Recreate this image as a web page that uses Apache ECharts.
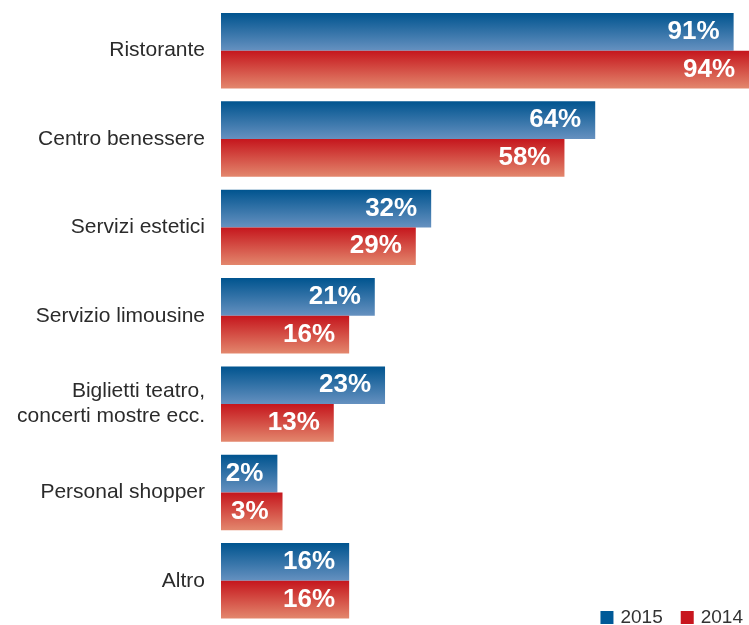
<!DOCTYPE html>
<html><head><meta charset="utf-8">
<script src="https://cdn.jsdelivr.net/npm/echarts@6/dist/echarts.min.js"></script>
<style>html,body{margin:0;padding:0;background:#fff}#c{width:749px;height:625px}</style>
</head><body><div id="c"></div>
<script>
const categories = ["Ristorante", "Centro benessere", "Servizi estetici", "Servizio limousine", "Biglietti teatro,\nconcerti mostre ecc.", "Personal shopper", "Altro"];
const values2015 = [91, 64, 32, 21, 23, 2, 16];
const values2014 = [94, 58, 29, 16, 13, 3, 16];
const seriesNames = ["2015", "2014"];

const chart = echarts.init(document.getElementById('c'), null, {renderer: 'canvas'});
const lbl = {
  show: true, position: 'insideRight', distance: 14, color: '#fff',
  fontFamily: '"Liberation Sans", Arial, sans-serif',
  fontWeight: 'bold', fontSize: 26, formatter: p => p.value + '%'
};
chart.setOption({
  animation: false,
  grid: {left: 221, right: 0, top: 6.5, height: 623, containLabel: false},
  legend: {
    right: 6, top: 608, padding: 0, itemWidth: 13, itemHeight: 13, itemGap: 18, icon: 'rect',
    textStyle: {fontFamily: '"Liberation Sans", Arial, sans-serif', fontSize: 19, color: '#333', padding: [0,0,0,2]},
    data: [{name: seriesNames[0], itemStyle: {color: '#005a98'}}, {name: seriesNames[1], itemStyle: {color: '#c8161e'}}]
  },
  xAxis: {type: 'value', min: -9, max: 94, startValue: -9, show: false, splitLine: {show: false}},
  yAxis: {
    type: 'category', data: categories, inverse: true,
    axisLine: {show: false}, axisTick: {show: false},
    axisLabel: {margin: 16, color: '#2b2b2b', fontSize: 21, lineHeight: 25,
      fontFamily: '"Liberation Sans", Arial, sans-serif', align: 'right'}
  },
  series: [
    {name: seriesNames[0], type: 'bar', data: values2015, barGap: '0%', barCategoryGap: '14.6%',
     itemStyle: {color: new echarts.graphic.LinearGradient(0,0,0,1,[{offset:0,color:'#00548f'},{offset:1,color:'#6691c0'}])},
     label: lbl},
    {name: seriesNames[1], type: 'bar', data: values2014, barGap: '0%', barCategoryGap: '14.6%',
     itemStyle: {color: new echarts.graphic.LinearGradient(0,0,0,1,[{offset:0,color:'#c5161d'},{offset:1,color:'#e3876d'}])},
     label: lbl}
  ]
});
</script></body></html>
